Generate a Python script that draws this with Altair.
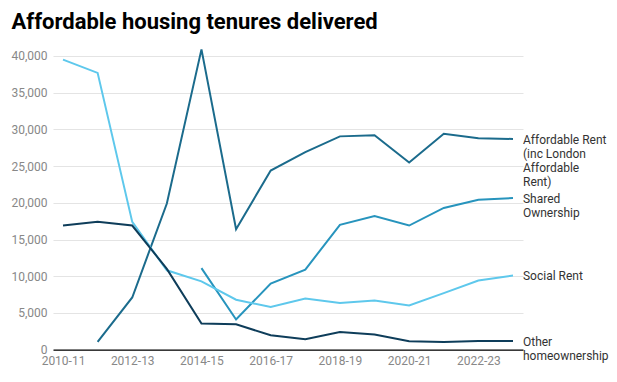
import altair as alt
import pandas as pd

years = ["2010-11", "2011-12", "2012-13", "2013-14", "2014-15", "2015-16", "2016-17",
         "2017-18", "2018-19", "2019-20", "2020-21", "2021-22", "2022-23", "2023-24"]

social_rent = [39500, 37700, 17400, 10800, 9300, 6800, 5800, 6950, 6350, 6700, 6000, 7700, 9400, 10100]
affordable_rent = [None, 1050, 7100, 19900, 40900, 16400, 24400, 26900, 29050, 29200, 25500, 29400, 28800, 28700]
shared_ownership = [None, None, None, None, 11100, 4100, 9000, 10900, 17000, 18200, 16900, 19300, 20400, 20650]
other_home = [16900, 17400, 16900, 11000, 3550, 3450, 1950, 1400, 2400, 2050, 1130, 1040, 1170, 1170]

series_names = ["Affordable Rent", "Shared Ownership", "Social Rent", "Other homeownership"]
series_labels = ["Affordable Rent\n(inc London\nAffordable\nRent)", "Shared\nOwnership",
                 "Social Rent", "Other\nhomeownership"]
series_colors = ["#1b6b8c", "#2794bd", "#5ec8ec", "#0e3d5a"]
series_values = [affordable_rent, shared_ownership, social_rent, other_home]
y_ticks = [0, 5000, 10000, 15000, 20000, 25000, 30000, 35000, 40000]

last_idx = len(years) - 1
rows = []
for name, lab, vals in zip(series_names, series_labels, series_values):
    for i, v in enumerate(vals):
        if v is not None:
            rows.append({"idx": i, "year": years[i], "series": name, "label": lab, "value": v})
df = pd.DataFrame(rows)

label_expr = "[" + ",".join("'" + y + "'" for y in years) + "][datum.value]"

x_enc = alt.X("idx:Q",
              scale=alt.Scale(domain=[-0.289, 13.289], nice=False, zero=False),
              axis=alt.Axis(values=[0, 2, 4, 6, 8, 10, 12], labelExpr=label_expr,
                            title=None, grid=False, ticks=False, domain=True,
                            domainColor="#000000", domainWidth=1.3,
                            labelColor="#888888", labelFont="Roboto", labelFontSize=12,
                            labelPadding=6, labelOverlap=False))
y_enc = alt.Y("value:Q",
              scale=alt.Scale(domain=[0, 40000], nice=False),
              axis=alt.Axis(values=y_ticks, format=",d", title=None,
                            grid=True, gridColor="#e4e4e4", ticks=False, domain=False,
                            labelColor="#888888", labelFont="Roboto", labelFontSize=12,
                            labelPadding=6, labelOverlap=False, labelBound=False,
                            labelFlush=False))
color_enc = alt.Color("series:N", scale=alt.Scale(domain=series_names, range=series_colors),
                      legend=None)

base = alt.Chart(df).encode(x=x_enc, y=y_enc)

lines = base.mark_line(strokeWidth=2).encode(color=color_enc, detail="series:N")

labels = base.mark_text(
    align="left", baseline="alphabetic", dx=10, dy=5, lineBreak="\n", lineHeight=14,
    font="Roboto", fontSize=12, color="#333333"
).encode(text="label:N").transform_filter(f"datum.idx == {last_idx}")

chart = alt.layer(lines, labels).properties(
    width=470, height=293.6,
    background="#ffffff",
    title=alt.TitleParams("Affordable housing tenures delivered", anchor="start",
                          frame="group", dx=-41.5, font="Roboto", fontSize=22,
                          fontWeight="bold", color="#000000", offset=11),
    autosize=alt.AutoSizeParams(type="none"),
    padding={"left": 45, "top": 48, "right": 86, "bottom": 20},
).configure_view(strokeWidth=0, stroke="transparent")

chart.save("out.html", embed_options={"renderer": "svg", "actions": False})
